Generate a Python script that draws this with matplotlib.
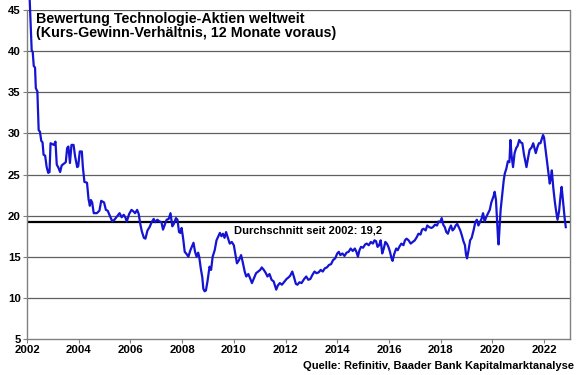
import matplotlib
matplotlib.use('Agg')
import matplotlib.pyplot as plt

# Kurs-Gewinn-Verhaeltnis, Technologie weltweit
years = [2002.06, 2002.10, 2002.15, 2002.18, 2002.22, 2002.26, 2002.31, 2002.34, 2002.40, 2002.45,
         2002.50, 2002.55, 2002.60, 2002.64, 2002.70, 2002.76, 2002.82, 2002.87, 2002.91, 2002.98,
         2003.04, 2003.10, 2003.15, 2003.22, 2003.28, 2003.34, 2003.42, 2003.50, 2003.55, 2003.60,
         2003.66, 2003.72, 2003.80, 2003.86, 2003.94, 2003.98, 2004.04, 2004.12, 2004.16, 2004.22,
         2004.32, 2004.38, 2004.43, 2004.47, 2004.52, 2004.58, 2004.70, 2004.80, 2004.87, 2004.98,
         2005.05, 2005.12, 2005.20, 2005.30, 2005.38, 2005.48, 2005.58, 2005.66, 2005.74, 2005.80,
         2005.86, 2005.95, 2006.04, 2006.12, 2006.18, 2006.26, 2006.32, 2006.38, 2006.44, 2006.52,
         2006.58, 2006.66, 2006.74, 2006.82, 2006.90, 2006.96, 2007.04, 2007.12, 2007.20, 2007.26,
         2007.32, 2007.40, 2007.48, 2007.55, 2007.62, 2007.68, 2007.76, 2007.82, 2007.88, 2007.93,
         2007.98, 2008.04, 2008.10, 2008.18, 2008.24, 2008.32, 2008.40, 2008.44, 2008.50, 2008.56,
         2008.62, 2008.66, 2008.72, 2008.78, 2008.82, 2008.87, 2008.92, 2008.98, 2009.06, 2009.12,
         2009.18, 2009.26, 2009.33, 2009.40, 2009.46, 2009.52, 2009.58, 2009.64, 2009.70, 2009.76,
         2009.84, 2009.92, 2010.00, 2010.06, 2010.12, 2010.20, 2010.28, 2010.34, 2010.42, 2010.48,
         2010.56, 2010.64, 2010.70, 2010.78, 2010.86, 2010.94, 2011.02, 2011.08, 2011.16, 2011.24,
         2011.30, 2011.38, 2011.46, 2011.54, 2011.60, 2011.64, 2011.70, 2011.78, 2011.86, 2011.96,
         2012.04, 2012.12, 2012.18, 2012.26, 2012.32, 2012.40, 2012.46, 2012.54, 2012.62, 2012.72,
         2012.80, 2012.88, 2012.96, 2013.04, 2013.12, 2013.20, 2013.28, 2013.36, 2013.44, 2013.52,
         2013.60, 2013.68, 2013.76, 2013.84, 2013.92, 2014.00, 2014.06, 2014.12, 2014.20, 2014.28,
         2014.36, 2014.44, 2014.52, 2014.60, 2014.68, 2014.74, 2014.80, 2014.86, 2014.92, 2015.00,
         2015.08, 2015.14, 2015.22, 2015.30, 2015.38, 2015.44, 2015.50, 2015.56, 2015.62, 2015.68,
         2015.74, 2015.80, 2015.86, 2015.92, 2015.98, 2016.04, 2016.10, 2016.14, 2016.20, 2016.28,
         2016.34, 2016.40, 2016.48, 2016.56, 2016.62, 2016.68, 2016.76, 2016.84, 2016.92, 2017.00,
         2017.08, 2017.14, 2017.22, 2017.28, 2017.34, 2017.42, 2017.48, 2017.56, 2017.64, 2017.70,
         2017.78, 2017.86, 2017.92, 2017.98, 2018.04, 2018.10, 2018.16, 2018.22, 2018.28, 2018.34,
         2018.40, 2018.46, 2018.52, 2018.58, 2018.64, 2018.70, 2018.76, 2018.82, 2018.88, 2018.94,
         2018.98, 2019.02, 2019.08, 2019.14, 2019.20, 2019.28, 2019.34, 2019.40, 2019.46, 2019.52,
         2019.58, 2019.64, 2019.70, 2019.76, 2019.82, 2019.90, 2019.96, 2020.04, 2020.09, 2020.14,
         2020.18, 2020.22, 2020.24, 2020.28, 2020.32, 2020.38, 2020.44, 2020.48, 2020.54, 2020.60,
         2020.66, 2020.70, 2020.74, 2020.80, 2020.86, 2020.92, 2020.98, 2021.04, 2021.10, 2021.16,
         2021.22, 2021.28, 2021.32, 2021.38, 2021.44, 2021.52, 2021.58, 2021.64, 2021.68, 2021.74,
         2021.80, 2021.86, 2021.92, 2021.96, 2022.00, 2022.06, 2022.10, 2022.16, 2022.22, 2022.26,
         2022.30, 2022.36, 2022.42, 2022.46, 2022.52, 2022.58, 2022.64, 2022.68, 2022.72, 2022.76,
         2022.80, 2022.84]
pe = [47.0, 46.5, 42.5, 40.1, 39.9, 38.2, 38.0, 35.5, 35.1, 30.4,
      30.2, 29.1, 28.9, 27.4, 27.3, 25.9, 25.2, 25.3, 28.8, 28.7,
      28.6, 29.0, 26.2, 25.8, 25.3, 26.1, 26.3, 26.5, 28.2, 28.4,
      26.4, 28.6, 28.6, 27.2, 25.9, 26.0, 27.8, 27.8, 25.9, 24.1,
      24.0, 22.0, 21.2, 21.9, 21.6, 20.3, 20.3, 20.6, 21.8, 21.6,
      20.7, 20.6, 20.0, 19.3, 19.5, 19.9, 20.3, 19.8, 20.1, 19.8,
      19.3, 20.2, 20.7, 20.5, 20.3, 20.7, 20.2, 19.0, 18.1, 17.3,
      17.2, 18.2, 18.6, 19.2, 19.6, 19.2, 19.5, 19.3, 19.2, 18.3,
      18.8, 19.5, 19.6, 20.3, 18.7, 19.0, 19.7, 19.5, 18.0, 17.9,
      18.5, 17.2, 15.6, 15.3, 15.0, 15.8, 16.4, 16.7, 15.6, 15.0,
      15.5, 15.0, 13.6, 12.5, 11.1, 10.8, 10.9, 12.0, 13.8, 13.4,
      15.0, 15.8, 17.0, 17.5, 17.9, 17.5, 17.8, 17.3, 18.0, 17.4,
      16.6, 16.8, 16.4, 15.3, 14.2, 14.6, 15.2, 14.4, 13.2, 12.6,
      12.9, 12.3, 11.8, 12.4, 13.0, 13.2, 13.4, 13.7, 13.4, 13.0,
      12.6, 12.9, 12.2, 12.0, 11.4, 11.0, 11.5, 11.8, 11.6, 12.0,
      12.3, 12.5, 12.7, 13.2, 12.6, 11.7, 11.6, 11.9, 11.8, 12.3,
      12.6, 12.2, 12.3, 12.8, 13.2, 13.0, 13.1, 13.4, 13.2, 13.6,
      13.7, 14.0, 14.1, 14.6, 14.8, 15.4, 15.6, 15.2, 15.4, 15.1,
      15.5, 15.6, 16.0, 15.7, 16.0, 15.6, 15.0, 15.8, 16.2, 16.1,
      16.5, 16.6, 16.4, 16.8, 16.6, 17.0, 16.9, 16.2, 16.4, 17.0,
      15.4, 16.0, 16.8, 16.6, 16.2, 15.6, 14.8, 14.5, 15.3, 16.0,
      15.8, 16.2, 16.6, 16.4, 17.0, 17.2, 17.0, 16.6, 16.8, 17.0,
      17.4, 17.8, 17.7, 18.3, 18.4, 18.2, 18.8, 18.6, 18.5, 18.6,
      18.9, 18.8, 19.3, 19.2, 19.7, 18.9, 18.6, 18.0, 17.8, 18.4,
      18.8, 18.2, 18.4, 18.8, 19.0, 18.6, 18.2, 17.6, 16.9, 16.4,
      15.3, 14.8, 15.8, 17.0, 17.3, 18.3, 19.2, 19.5, 18.8, 19.2,
      19.6, 20.3, 19.3, 19.8, 20.2, 20.7, 21.6, 22.3, 22.9, 21.9,
      19.5, 17.2, 16.5, 18.6, 20.7, 22.5, 24.3, 25.1, 25.7, 26.6,
      26.5, 29.2, 27.4, 25.9, 27.6, 28.2, 28.5, 29.2, 28.9, 28.8,
      27.5, 26.5, 25.9, 27.0, 28.0, 28.3, 28.8, 28.1, 27.6, 28.3,
      28.8, 28.8, 29.4, 29.8, 29.5, 28.0, 27.0, 25.6, 23.9, 24.5,
      25.5, 23.3, 21.6, 20.7, 19.5, 20.5, 22.5, 23.5, 22.2, 20.9,
      19.6, 18.6]
average = 19.2
xticks = list(range(2002, 2023, 2))
yticks = [5, 10, 15, 20, 25, 30, 35, 40, 45]

plt.rcParams['font.family'] = ['Liberation Sans', 'DejaVu Sans']

fig = plt.figure(figsize=(5.8, 3.75), dpi=100)
ax = fig.add_axes([0.0466, 0.096, 0.936, 0.8773])

for y in yticks[1:]:
    ax.axhline(y, color='#606060', lw=0.9, zorder=1)
ax.axhline(average, color='black', lw=1.6, zorder=2)
ax.plot(years, pe, color='#1414d2', lw=1.6, zorder=3, clip_on=False)

ax.set_xlim(2002, 2023)
ax.set_ylim(5, 45)
ax.set_xticks(xticks)
ax.set_yticks(yticks)
ax.tick_params(labelsize=8.2, length=3, color='#808080', pad=1.5)
for lab in ax.get_xticklabels() + ax.get_yticklabels():
    lab.set_fontweight('bold')
ax.spines['top'].set_visible(False)
for s in ['left', 'bottom', 'right']:
    ax.spines[s].set_color('#808080')
    ax.spines[s].set_linewidth(1.0)

fig.text(36 / 580, 1 - 12 / 375, 'Bewertung Technologie-Aktien weltweit\n(Kurs-Gewinn-Verhältnis, 12 Monate voraus)',
         fontsize=10.3, fontweight='bold', ha='left', va='top', linespacing=1.0)
ax.text(2010.0, 18.8, 'Durchschnitt seit 2002: 19,2', fontsize=8.0, fontweight='bold',
        ha='left', va='top')
fig.text(574 / 580, 1 - 366 / 375, 'Quelle: Refinitiv, Baader Bank Kapitalmarktanalyse',
         fontsize=8.0, fontweight='bold', ha='right', va='center')

plt.savefig('out.png', dpi=100)
plt.close()
